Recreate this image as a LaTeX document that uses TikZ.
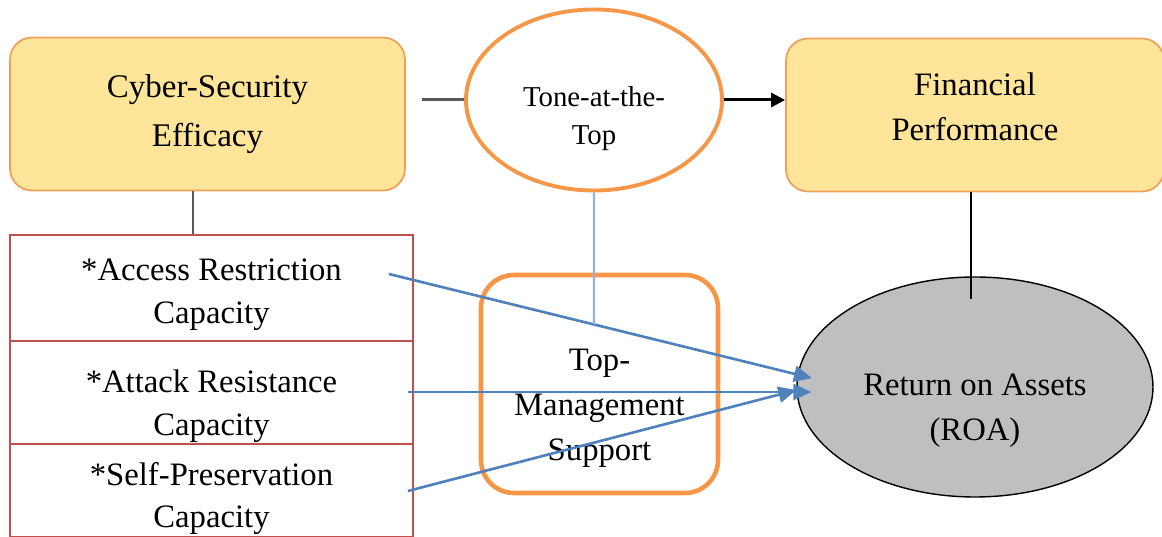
\documentclass[tikz,border=0pt]{standalone}
\usepackage{fontspec}
\setmainfont{Liberation Serif}
\usetikzlibrary{shapes.geometric,arrows.meta}
\definecolor{goldfill}{RGB}{255,229,153}
\definecolor{goldedge}{RGB}{240,160,90}
\definecolor{ringorange}{RGB}{247,150,70}
\definecolor{listred}{RGB}{192,80,77}
\definecolor{linkblue}{RGB}{79,129,189}
\definecolor{paleblue}{RGB}{149,179,215}
\definecolor{roagrey}{RGB}{191,191,191}
\definecolor{linkgrey}{RGB}{89,89,89}
\newcommand\bodyfont{\fontsize{9.3}{12.8}\selectfont}
\newcommand\tonefont{\fontsize{8.2}{10.8}\selectfont}
\tikzset{
    goalbox/.style={draw=goldedge, fill=goldfill, line width=0.5pt, rounded corners=0.22cm,
            minimum width=3.95cm, minimum height=1.53cm, align=center, font=\bodyfont},
    ring/.style={ellipse, draw=ringorange, fill=white, line width=1.1pt,
            minimum width=2.56cm, minimum height=1.81cm, inner sep=0pt},
    roashape/.style={ellipse, draw=black, fill=roagrey, line width=0.4pt,
            minimum width=3.56cm, minimum height=2.20cm, inner sep=0pt},
    supportbox/.style={draw=ringorange, fill=white, line width=1.3pt, rounded corners=0.33cm,
            minimum width=2.37cm, minimum height=2.18cm},
    rowbox/.style={draw=listred, line width=0.5pt, minimum width=4.03cm, inner sep=0pt},
    txt/.style={align=center, font=\bodyfont, inner sep=0pt},
    rowtxt/.style={align=center, font=\fontsize{9.3}{12.2}\selectfont, inner sep=0pt},
    link/.style={draw=linkgrey, line width=0.85pt},
    bluearrow/.style={draw=linkblue, line width=0.75pt, -{Triangle[length=1.8mm,width=1.6mm]}},
}
\begin{document}
\begin{tikzpicture}
    \useasboundingbox (0,0) rectangle (11.62,5.37);
    %top row
    \node[goalbox, font=\fontsize{9.4}{14}\selectfont] (cyber) at (2.075,4.23) {Cyber-Security\\Efficacy};
    \node[ring, label={[txt,font=\tonefont,yshift=-0.19cm]center:Tone-at-the-\\Top}] (tone) at (5.94,4.37) {};
    \node[goalbox, minimum width=3.78cm, label={[txt,yshift=0.08cm]center:Financial\\Performance}] (fin) at (9.75,4.22) {};
    %capacity list
    \node[rowbox, minimum height=1.06cm, label={[rowtxt,yshift=-0.07cm]center:*Access Restriction\\Capacity}] (acc) at (2.115,2.49) {};
    \node[rowbox, minimum height=1.03cm, label={[rowtxt,yshift=-0.14cm]center:*Attack Resistance\\Capacity}] (att) at (2.115,1.445) {};
    \node[rowbox, minimum height=0.93cm, label={[rowtxt,yshift=-0.08cm]center:*Self-Preservation\\Capacity}] (self) at (2.115,0.465) {};
    %mediator and outcome
    \node[supportbox, label={[txt,yshift=-0.24cm]center:Top-\\Management\\Support}] (tms) at (5.995,1.53) {};
    \node[roashape, label={[txt,yshift=-0.24cm]center:Return on Assets\\(ROA)}] (roa) at (9.75,1.50) {};
    %free ends of the links
    \coordinate (lead) at (4.22,4.37);
    \coordinate (accfrom) at ([xshift=-0.25cm,yshift=0.14cm]acc.east);
    \coordinate (attfrom) at ([xshift=-0.06cm]att.east |- 0,1.45);
    \coordinate (selffrom) at ([xshift=-0.06cm]self.east |- 0,0.46);
    \coordinate (tonefoot) at (tone.south |- tms.south);
    %plain links
    \draw[link] ([xshift=-0.145cm]cyber.south) -- ([xshift=-0.145cm]cyber.south |- acc.north);
    \draw[link] (lead) -- (tone.west);
    \draw[link, draw=black, -{Triangle[length=1.4mm,width=1.4mm]}] (tone.east) -- (tone.east -| fin.west);
    \draw[black, line width=0.6pt] ([xshift=-0.04cm]fin.south) -- ([xshift=-0.04cm,yshift=-0.23cm]roa.north);
    %arrows into ROA
    \draw[bluearrow, shorten >=-1.5mm] (accfrom) -- (roa.176.4);
    \draw[bluearrow, shorten >=-1.5mm] (attfrom) -- (attfrom -| roa.west);
    \draw[bluearrow] (selffrom) -- (roa.181.6);
    \draw[draw=paleblue, line width=0.6pt] (tone.south) -- (intersection of tone.south--tonefoot and accfrom--roa.176.4);
\end{tikzpicture}
\end{document}
